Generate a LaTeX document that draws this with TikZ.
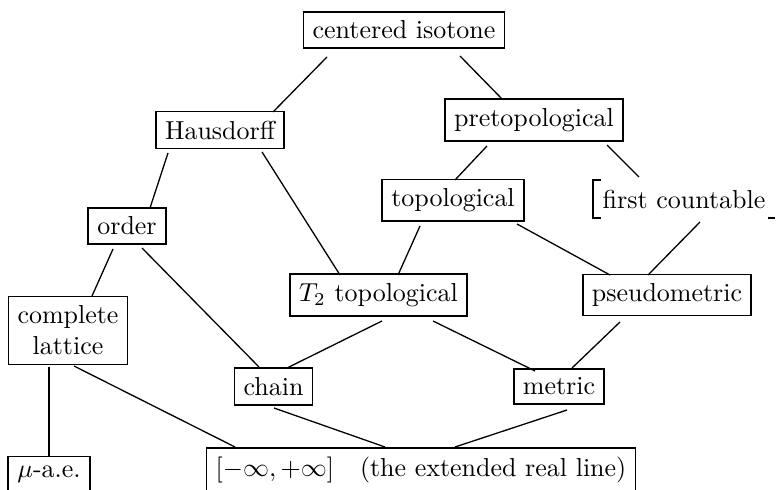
\documentclass[tikz,border=0pt]{standalone}
\usetikzlibrary{calc}
\tikzset{
  box/.style={draw, line width=0.6pt, inner sep=3.5pt},
  link/.style={line width=0.5pt}
}
\begin{document}
\begin{tikzpicture}[x=0.385pt,y=-0.385pt]
\useasboundingbox (0,0) rectangle (777,490);
%\draw[step=50,gray,very thin] (0,0) grid (777,490); %background grid
\node[box] (ci) at (404,30) {centered isotone};
\node[box] (hd) at (220,130) {Hausdorff};
\node[box] (pt) at (534,120) {pretopological};
\node[box] (top) at (453,200.5) {topological};
\node[box,draw=none] (fc) at (684,199) {first countable};
\node[box] (ord) at (127,226) {order};
\node[box] (tt) at (378.5,295) {$T_2$ topological};
\node[box] (pm) at (667,295) {pseudometric};
\node[box,align=center] (cl) at (68,330.5) {complete\\lattice};
\node[box] (ch) at (273.5,386.5) {chain};
\node[box] (met) at (559,386.5) {metric};
\node[box] (mu) at (49,474) {$\mu$-a.e.};
\node[box] (ext) at (421,470) {$[-\infty,+\infty]$\quad(the extended real line)};
% what is left of the first countable box
\draw[line width=0.6pt] ($(fc.north west)+(8,0)$) -- (fc.north west) -- (fc.south west) -- ++(8,0);
\draw[line width=0.6pt] (fc.south east) -- ++(-7,0);
% links
\draw[link] ($(ci)+(-77,27)$) -- ($(hd)+(53,-18)$);
\draw[link] ($(ci)+(56,26)$) -- ($(pt)+(-32,-21)$);
\draw[link] ($(hd)+(-52,23)$) -- ($(ord)+(23,-18)$);
\draw[link] ($(hd)+(42,22)$) -- ($(tt)+(-38.5,-20)$);
\draw[link] ($(pt)+(-47,26)$) -- ($(top)+(2,-20.5)$);
\draw[link] ($(pt)+(73,25)$) -- ($(fc)+(-45,-22)$);
\draw[link] ($(top)+(-33,25.5)$) -- ($(tt)+(19.5,-20)$);
\draw[link] ($(top)+(64,23.5)$) -- ($(pm)+(-57,-20)$);
\draw[link] ($(fc)+(16,23)$) -- ($(pm)+(-19,-20)$);
\draw[link] ($(ord)+(-14,23)$) -- ($(cl)+(24,-34.5)$);
\draw[link] ($(ord)+(15,22)$) -- ($(ch)+(-14.5,-19.5)$);
\draw[link] ($(tt)+(3.5,26)$) -- ($(ch)+(13.5,-18.5)$);
\draw[link] ($(tt)+(54.5,26)$) -- ($(met)+(-24,-15.5)$);
\draw[link] ($(pm)+(-47,27)$) -- ($(met)+(13,-18.5)$);
\draw[link] ($(cl)+(-19,36.5)$) -- ($(mu)+(0,-17)$);
\draw[link] ($(cl)+(6,35.5)$) -- ($(ext)+(-186,-23)$);
\draw[link] ($(ch)+(0.5,21.5)$) -- ($(ext)+(-36,-23)$);
\draw[link] ($(met)+(8,23.5)$) -- ($(ext)+(34,-23)$);
\end{tikzpicture}
\end{document}
